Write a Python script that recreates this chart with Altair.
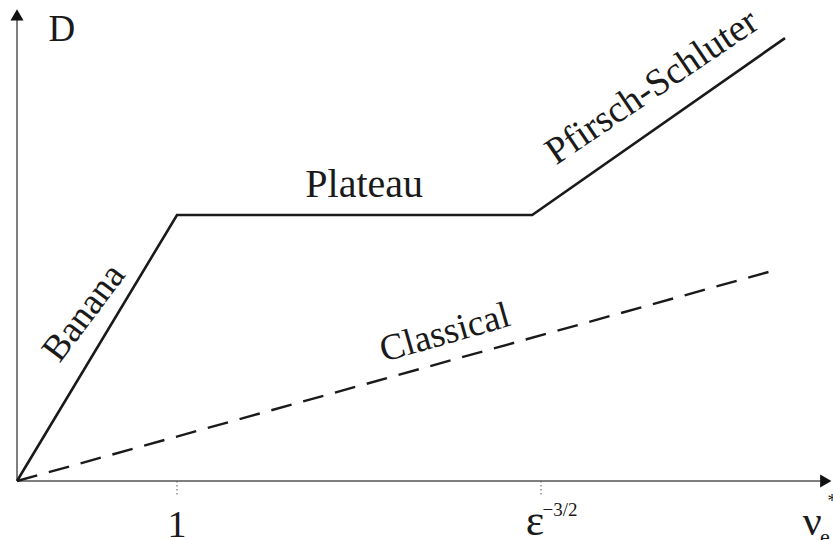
import altair as alt
import pandas as pd

# Data (arbitrary units: nu on x, D on y)
solid_x = [0.0, 1.0, 3.22, 4.80]
solid_y = [0.0, 1.0, 1.0, 1.665]
dash_x = [0.0, 4.74]
dash_y = [0.0, 0.793]
tick_x = [1.0, 3.275]
tick_labels = ["1", "ε"]

XDOM = [-0.10625, 5.1]
YDOM = [-0.2218, 1.8083]
FONT = "Liberation Serif"

xs = alt.Scale(domain=XDOM, nice=False, zero=False)
ys = alt.Scale(domain=YDOM, nice=False, zero=False)
X = lambda f: alt.X(f, type="quantitative", scale=xs, axis=None)
Y = lambda f: alt.Y(f, type="quantitative", scale=ys, axis=None)

solid = pd.DataFrame({"x": solid_x, "y": solid_y, "o": range(len(solid_x))})
dash = pd.DataFrame({"x": dash_x, "y": dash_y, "o": range(len(dash_x))})

axes_df = pd.DataFrame({"x": [0.0, 0.0], "y": [0.0, 0.0], "x2": [5.02, 0.0], "y2": [0.0, 1.735]})
axes = alt.Chart(axes_df).mark_rule(color="#7f7f7f", strokeWidth=2).encode(
    x=X("x"), y=Y("y"), x2="x2", y2="y2")

arrow_df = pd.DataFrame({"x": [5.055, 0.0], "y": [0.0, 1.752], "a": [90, 0]})
arrows = alt.Chart(arrow_df).mark_point(shape="triangle-up", filled=True, color="#111111",
                                         size=170, opacity=1).encode(
    x=X("x"), y=Y("y"), angle=alt.Angle("a:Q", scale=None))

ticks_df = pd.DataFrame({"x": tick_x, "y": [0.0, 0.0], "y2": [-0.055, -0.055]})
ticks = alt.Chart(ticks_df).mark_rule(color="#555555", strokeWidth=1, strokeDash=[1.5, 2.5]).encode(
    x=X("x"), y=Y("y"), y2="y2")

line_solid = alt.Chart(solid).mark_line(color="#1a1a1a", strokeWidth=2.6).encode(
    x=X("x"), y=Y("y"), order="o")
line_dash = alt.Chart(dash).mark_line(color="#1a1a1a", strokeWidth=2.4, strokeDash=[21, 12]).encode(
    x=X("x"), y=Y("y"), order="o")

def label(text, x, y, size, angle=0, align="center", baseline="middle"):
    df = pd.DataFrame({"x": [x], "y": [y], "t": [text]})
    kw = dict(font=FONT, fontSize=size, color="#1a1a1a", align=align, baseline=baseline)
    if angle:
        kw["angle"] = angle
    return alt.Chart(df).mark_text(**kw).encode(x=X("x"), y=Y("y"), text="t:N")

labels = [
    label("D", 0.281, 1.695, 37),
    label("Plateau", 2.17, 1.068, 40, baseline="alphabetic"),
    label("Banana", 0.42, 0.632, 37, angle=307),
    label("Pfirsch-Schluter", 3.97, 1.48, 38, angle=326),
    label("Classical", 2.675, 0.556, 37, angle=344),
    label(tick_labels[0], 1.0, -0.2105, 38, baseline="alphabetic"),
    label(tick_labels[1], 3.2375, -0.203, 44, baseline="alphabetic"),
    label("−3/2", 3.285, -0.1316, 19, align="left", baseline="alphabetic"),
    label("ν", 4.97, -0.203, 42, baseline="alphabetic"),
    label("e", 5.019, -0.235, 22, align="left", baseline="alphabetic"),
    label("*", 5.094, -0.08, 18),
]

chart = alt.layer(axes, ticks, line_dash, line_solid, arrows, *labels).properties(
    width=833, height=540, autosize=alt.AutoSizeParams(type="none"), padding=0,
    background="white"
).configure_view(stroke=None)

chart.save("out.html", embed_options={"renderer": "svg", "actions": False})
